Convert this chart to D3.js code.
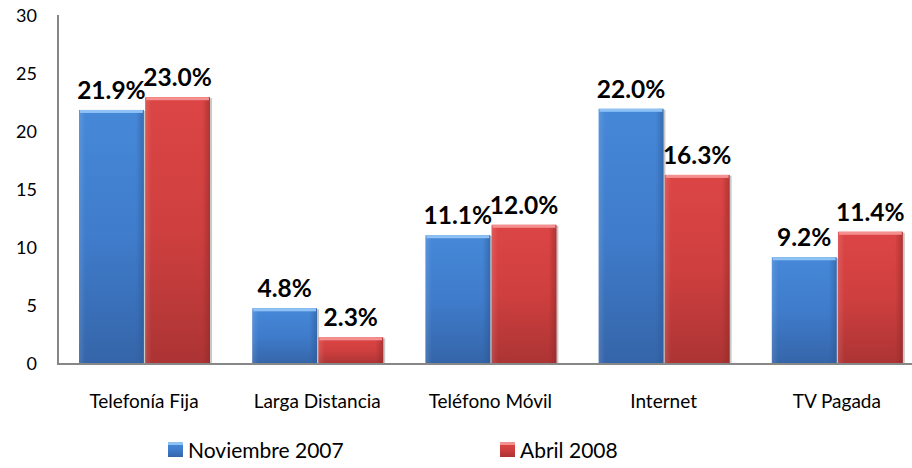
<!DOCTYPE html>
<html>
<head>
<meta charset="utf-8">
<script src="https://cdn.jsdelivr.net/npm/d3@7"></script>
<style>
  body { margin: 0; background: #fff; }
  text { font-family: Lato, "Open Sans", sans-serif; fill: #000; }
</style>
</head>
<body>
<div id="chart"></div>
<script>
// chart data
var categories = ['Telefonía Fija', 'Larga Distancia', 'Teléfono Móvil', 'Internet', 'TV Pagada'];
var series = ['Noviembre 2007', 'Abril 2008'];
var nov2007 = [21.9, 4.8, 11.1, 22.0, 9.2];
var abr2008 = [23.0, 2.3, 12.0, 16.3, 11.4];
var yTicks = [0, 5, 10, 15, 20, 25, 30];

var width = 912, height = 468;
var values = [nov2007, abr2008];

var svg = d3.select('#chart').append('svg')
    .attr('width', width)
    .attr('height', height);

// gradients for the bevelled bars
var defs = svg.append('defs');
var palette = [
  {id: 'blue', top: '#4688d8', mid: '#3f7ccb', bot: '#3565a9', hi: '#8ec2f5', edge: '#2c5590'},
  {id: 'red', top: '#dc4545', mid: '#cf3f3f', bot: '#ac3434', hi: '#f59090', edge: '#8c2828'}
];
palette.forEach(function(p){
  var g = defs.append('linearGradient').attr('id', 'g-' + p.id)
      .attr('x1', 0).attr('y1', 0).attr('x2', 0).attr('y2', 1);
  g.append('stop').attr('offset', '0%').attr('stop-color', p.top);
  g.append('stop').attr('offset', '50%').attr('stop-color', p.mid);
  g.append('stop').attr('offset', '100%').attr('stop-color', p.bot);
  var h = defs.append('linearGradient').attr('id', 'h-' + p.id)
      .attr('x1', 0).attr('y1', 0).attr('x2', 1).attr('y2', 0);
  h.append('stop').attr('offset', '0%').attr('stop-color', '#fff').attr('stop-opacity', 0.12);
  h.append('stop').attr('offset', '10%').attr('stop-color', '#fff').attr('stop-opacity', 0);
  h.append('stop').attr('offset', '88%').attr('stop-color', p.edge).attr('stop-opacity', 0);
  h.append('stop').attr('offset', '100%').attr('stop-color', p.edge).attr('stop-opacity', 0.55);
});

var x = d3.scaleBand().domain(categories).range([58, 924]);
var xs = d3.scaleBand().domain(series).range([21, 152]).paddingInner(0.02);
var y = d3.scaleLinear().domain([0, 30]).range([364, 16]);

// y tick labels
svg.append('g').selectAll('text')
  .data(yTicks).enter().append('text')
  .attr('x', 37)
  .attr('y', function(d){ return y(d) + 6; })
  .attr('text-anchor', 'end')
  .style('font-size', '18px')
  .text(function(d){ return d; });

// bars
var groups = svg.append('g').selectAll('g')
  .data(categories).enter().append('g')
  .attr('transform', function(d){ return 'translate(' + x(d) + ',0)'; });

series.forEach(function(s, si){
  var p = palette[si];
  var bw = xs.bandwidth();
  var bar = groups.append('g');
  // soft shadow
  bar.append('rect')
    .attr('x', xs(s) + 1)
    .attr('y', function(d, i){ return y(values[si][i]) + 1; })
    .attr('width', bw + 1)
    .attr('height', function(d, i){ return y(0) - y(values[si][i]); })
    .attr('fill', '#c8c8c8');
  bar.append('rect')
    .attr('x', xs(s))
    .attr('y', function(d, i){ return y(values[si][i]); })
    .attr('width', bw)
    .attr('height', function(d, i){ return y(0) - y(values[si][i]); })
    .attr('fill', 'url(#g-' + p.id + ')');
  bar.append('rect')
    .attr('x', xs(s))
    .attr('y', function(d, i){ return y(values[si][i]); })
    .attr('width', bw)
    .attr('height', function(d, i){ return y(0) - y(values[si][i]); })
    .attr('fill', 'url(#h-' + p.id + ')');
  // top highlight strip
  bar.append('rect')
    .attr('x', xs(s) + 1)
    .attr('y', function(d, i){ return y(values[si][i]); })
    .attr('width', bw - 2)
    .attr('height', 3)
    .attr('fill', p.hi);
  // value label
  bar.append('text')
    .attr('x', xs(s) + bw / 2)
    .attr('y', function(d, i){ return y(values[si][i]) - 11; })
    .attr('text-anchor', 'middle')
    .style('font-size', '24.5px')
    .style('font-weight', 'bold')
    .text(function(d, i){ return values[si][i].toFixed(1) + '%'; });
});

// axis lines
svg.append('line')
  .attr('x1', 58).attr('x2', 58).attr('y1', 15).attr('y2', 365)
  .attr('stroke', '#878787').attr('stroke-width', 2);
svg.append('line')
  .attr('x1', 57).attr('x2', width).attr('y1', 364).attr('y2', 364)
  .attr('stroke', '#878787').attr('stroke-width', 2);

// category labels
svg.append('g').selectAll('text')
  .data(categories).enter().append('text')
  .attr('x', function(d){ return x(d) + 86; })
  .attr('y', 408)
  .attr('text-anchor', 'middle')
  .style('font-size', '19px')
  .text(function(d){ return d; });

// legend
var legendX = [168, 500];
var legend = svg.append('g').selectAll('g')
  .data(series).enter().append('g')
  .attr('transform', function(d, i){ return 'translate(' + legendX[i] + ',442)'; });
legend.append('rect')
  .attr('width', 15).attr('height', 15)
  .attr('fill', function(d, i){ return 'url(#g-' + palette[i].id + ')'; });
legend.append('rect')
  .attr('width', 15).attr('height', 3)
  .attr('fill', function(d, i){ return palette[i].hi; });
legend.append('text')
  .attr('x', 20).attr('y', 16)
  .style('font-size', '21px')
  .text(function(d){ return d; });
</script>
</body>
</html>
